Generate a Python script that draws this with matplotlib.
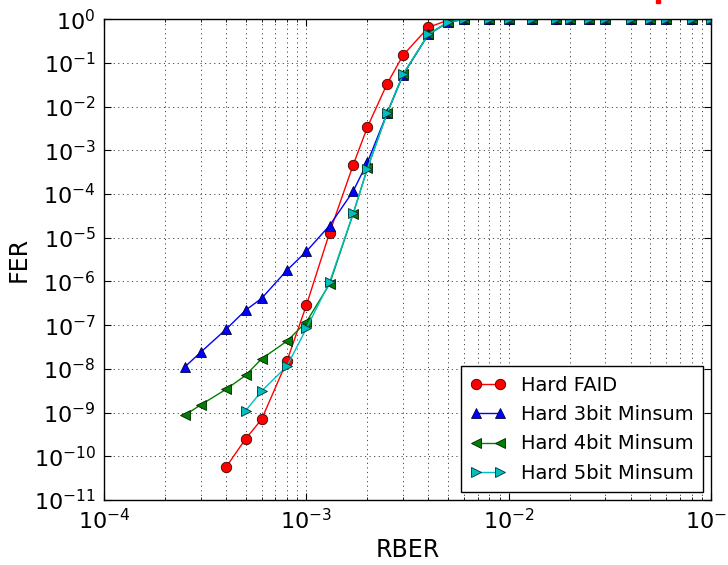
import matplotlib
matplotlib.use('Agg')
import matplotlib.pyplot as plt
from matplotlib.patches import Rectangle

# RBER points shared by all curves
rber = [2.5e-4, 3e-4, 4e-4, 5e-4, 6e-4, 8e-4, 1e-3, 1.3e-3, 1.7e-3, 2e-3,
        2.5e-3, 3e-3, 4e-3, 5e-3, 6e-3, 8e-3, 1e-2, 1.3e-2, 1.7e-2, 2e-2,
        2.5e-2, 3e-2, 4e-2, 5e-2, 6e-2, 8e-2, 1e-1]
tail = [1.0] * 13  # 6e-3 .. 1e-1

faid_x = rber[2:]
faid_y = [5.6e-11, 2.5e-10, 7e-10, 1.5e-8, 2.9e-7, 1.3e-5, 4.6e-4, 3.4e-3,
          3.3e-2, 0.15, 0.65, 0.95] + tail

ms3_x = rber
ms3_y = [1.1e-8, 2.4e-8, 8e-8, 2.2e-7, 4.1e-7, 1.8e-6, 4.9e-6, 1.9e-5,
         1.16e-4, 5.3e-4, 7e-3, 5.3e-2, 0.45, 0.85] + tail

ms4_x = rber
ms4_y = [8.7e-10, 1.5e-9, 3.4e-9, 7.1e-9, 1.7e-8, 4.3e-8, 1.2e-7, 8.7e-7,
         3.5e-5, 3.9e-4, 7e-3, 5.5e-2, 0.45, 0.85] + tail

ms5_x = rber[3:]
ms5_y = [1.1e-9, 3.1e-9, 1.15e-8, 8.5e-8, 9.6e-7, 3.6e-5, 3.8e-4, 7e-3,
         5.5e-2, 0.45, 0.85] + tail

plt.rcParams['font.size'] = 16
plt.rcParams['xtick.direction'] = 'in'
plt.rcParams['ytick.direction'] = 'in'

fig = plt.figure(figsize=(7.28, 5.65), dpi=100)
ax = fig.add_axes([0.143, 0.115, 0.834, 0.851])

ax.loglog(faid_x, faid_y, '-o', color='#ff0000', markersize=7.5, mec='#400000',
          mew=0.6, lw=1, label='Hard FAID')
ax.loglog(ms3_x, ms3_y, '-^', color='#0000ff', markersize=7.5, mec='#000040',
          mew=0.6, lw=1, label='Hard 3bit Minsum')
ax.loglog(ms4_x, ms4_y, '-<', color='#008000', markersize=7.5, mec='#002000',
          mew=0.6, lw=1, label='Hard 4bit Minsum')
ax.loglog(ms5_x, ms5_y, '->', color='#00bfbf', markersize=7.5, mec='#003030',
          mew=0.6, lw=1, label='Hard 5bit Minsum')

ax.set_xlim(1e-4, 1e-1)
ax.set_ylim(1e-11, 1e0)
ax.set_yticks([10.0 ** k for k in range(-11, 1)])
ax.yaxis.set_minor_locator(matplotlib.ticker.NullLocator())
ax.grid(True, which='major', color='#444444', linestyle=(0, (1.2, 3.5)), lw=0.7)
ax.grid(True, which='minor', axis='x', color='#444444', linestyle=(0, (1.2, 3.5)), lw=0.7)
ax.tick_params(which='both', top=True, right=True)
ax.tick_params(which='major', length=5, labelsize=16, pad=6)
ax.tick_params(which='minor', length=2.5)
for s in ax.spines.values():
    s.set_linewidth(1.0)

ax.set_xlabel('RBER', fontsize=17, labelpad=3)
ax.set_ylabel('FER', fontsize=17, labelpad=2)

leg = ax.legend(loc='lower right', numpoints=2, fontsize=14, fancybox=False,
                framealpha=1, edgecolor='black', borderaxespad=0.4,
                handlelength=1.8, labelspacing=0.52, borderpad=0.5)
leg.get_frame().set_linewidth(1.0)

# small red fragment at the top edge of the original image
fig.patches.append(Rectangle((0.901, 0.994), 0.006, 0.006, transform=fig.transFigure,
                             color='#ff0000', zorder=10))

fig.savefig('out.png', dpi=100)
